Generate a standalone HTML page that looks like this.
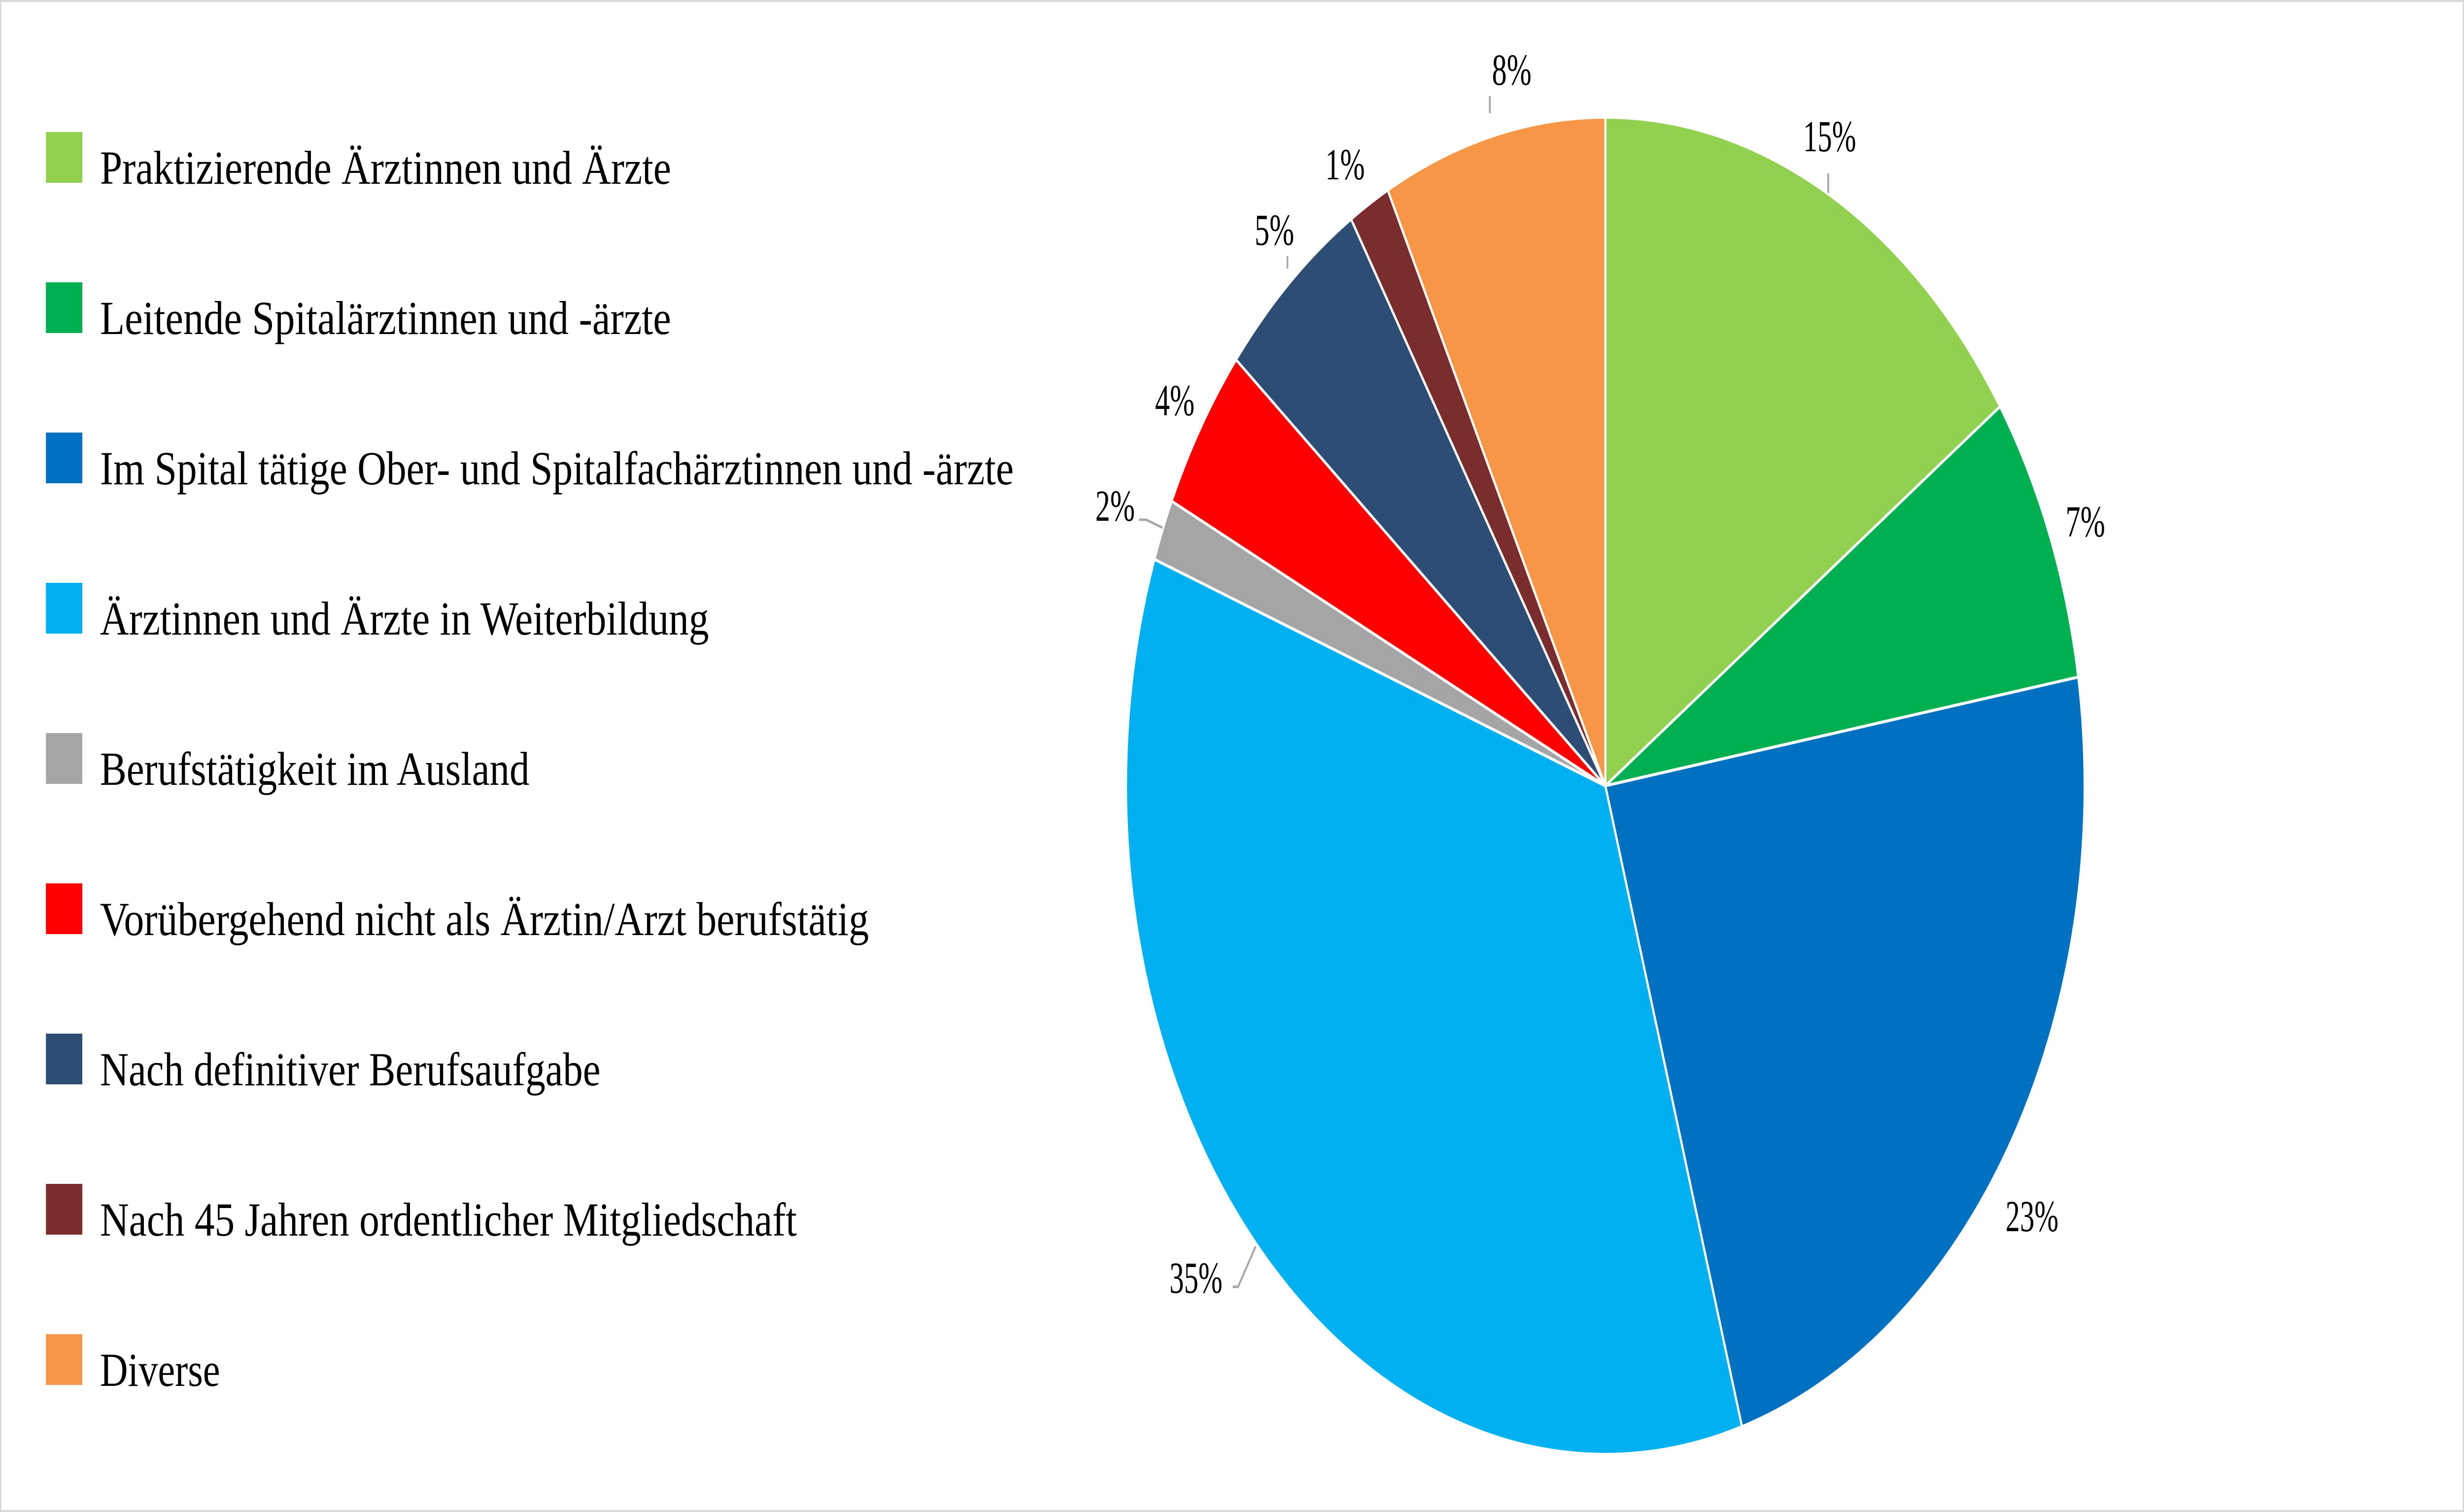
<!DOCTYPE html>
<html><head><meta charset="utf-8"><style>
html,body{margin:0;padding:0;background:#fff;overflow:hidden;width:100%;height:100%}
svg{display:block;width:100vw;height:100vh}
text{font-family:"Liberation Serif",serif;fill:#000}
</style></head><body>
<svg id="s" viewBox="0 0 6976 3069" preserveAspectRatio="none" xmlns="http://www.w3.org/2000/svg">
<rect x="2" y="2" width="6972" height="3065" fill="#fff" stroke="#d9d9d9" stroke-width="4"/>
<g id="pie"></g>
<g stroke="#a6a6a6" stroke-width="5" fill="none">
<line x1="5176" y1="352" x2="5176" y2="392"/>
<polyline points="3225,1055 3245,1055 3291,1071"/>
<polyline points="3490,2612 3505,2612 3555,2530"/>
<line x1="3645" y1="520" x2="3645" y2="545"/>
<line x1="4218" y1="195" x2="4218" y2="230"/>
</g>
<g font-size="90" text-anchor="middle" lengthAdjust="spacingAndGlyphs">
<text x="5180" y="307" textLength="150" lengthAdjust="spacingAndGlyphs">15%</text>
<text x="5904" y="1089" textLength="112" lengthAdjust="spacingAndGlyphs">7%</text>
<text x="5753" y="2499" textLength="150" lengthAdjust="spacingAndGlyphs">23%</text>
<text x="3386" y="2624" textLength="150" lengthAdjust="spacingAndGlyphs">35%</text>
<text x="3157" y="1057" textLength="112" lengthAdjust="spacingAndGlyphs">2%</text>
<text x="3326" y="843" textLength="112" lengthAdjust="spacingAndGlyphs">4%</text>
<text x="3608" y="497" textLength="112" lengthAdjust="spacingAndGlyphs">5%</text>
<text x="3808" y="364" textLength="112" lengthAdjust="spacingAndGlyphs">1%</text>
<text x="4280" y="172" textLength="112" lengthAdjust="spacingAndGlyphs">8%</text>
</g>
<g font-size="96">
<rect x="130" y="268" width="103" height="103" fill="#92D050"/><text x="283" y="373" textLength="1617" lengthAdjust="spacingAndGlyphs">Praktizierende Ärztinnen und Ärzte</text>
<rect x="130" y="573" width="103" height="103" fill="#00B050"/><text x="283" y="678" textLength="1617" lengthAdjust="spacingAndGlyphs">Leitende Spitalärztinnen und -ärzte</text>
<rect x="130" y="878" width="103" height="103" fill="#0070C0"/><text x="283" y="983" textLength="2587" lengthAdjust="spacingAndGlyphs">Im Spital tätige Ober- und Spitalfachärztinnen und -ärzte</text>
<rect x="130" y="1183" width="103" height="103" fill="#00B0F0"/><text x="283" y="1288" textLength="1724" lengthAdjust="spacingAndGlyphs">Ärztinnen und Ärzte in Weiterbildung</text>
<rect x="130" y="1488" width="103" height="103" fill="#A5A5A5"/><text x="283" y="1593" textLength="1216" lengthAdjust="spacingAndGlyphs">Berufstätigkeit im Ausland</text>
<rect x="130" y="1793" width="103" height="103" fill="#FF0000"/><text x="283" y="1898" textLength="2177" lengthAdjust="spacingAndGlyphs">Vorübergehend nicht als Ärztin/Arzt berufstätig</text>
<rect x="130" y="2098" width="103" height="103" fill="#2E4D74"/><text x="283" y="2203" textLength="1417" lengthAdjust="spacingAndGlyphs">Nach definitiver Berufsaufgabe</text>
<rect x="130" y="2403" width="103" height="103" fill="#7B2C2C"/><text x="283" y="2508" textLength="1973" lengthAdjust="spacingAndGlyphs">Nach 45 Jahren ordentlicher Mitgliedschaft</text>
<rect x="130" y="2708" width="103" height="103" fill="#F79646"/><text x="283" y="2813" textLength="340" lengthAdjust="spacingAndGlyphs">Diverse</text>
</g>
</svg>
<script>
(function(){
var cx=4545,cy=1595,r=1357;
var v=[15.4,7.0,23.0,35.1,1.5,4.0,5.1,1.4,7.5];
var c=["#92D050","#00B050","#0070C0","#00B0F0","#A5A5A5","#FF0000","#2E4D74","#7B2C2C","#F79646"];
var tot=v.reduce(function(a,b){return a+b},0),a=0,h="";
function pt(t){var an=t/tot*2*Math.PI;return [cx+r*Math.sin(an),cy-r*Math.cos(an)];}
for(var i=0;i<v.length;i++){var p1=pt(a),p2=pt(a+v[i]);var lg=v[i]/tot>0.5?1:0;
h+='<path d="M'+cx+','+cy+' L'+p1[0].toFixed(1)+','+p1[1].toFixed(1)+' A'+r+','+r+' 0 '+lg+' 1 '+p2[0].toFixed(1)+','+p2[1].toFixed(1)+' Z" fill="'+c[i]+'" stroke="#fff" stroke-width="6" stroke-linejoin="round"/>';a+=v[i];}
document.getElementById("pie").innerHTML=h;
})();
</script>
</body></html>
